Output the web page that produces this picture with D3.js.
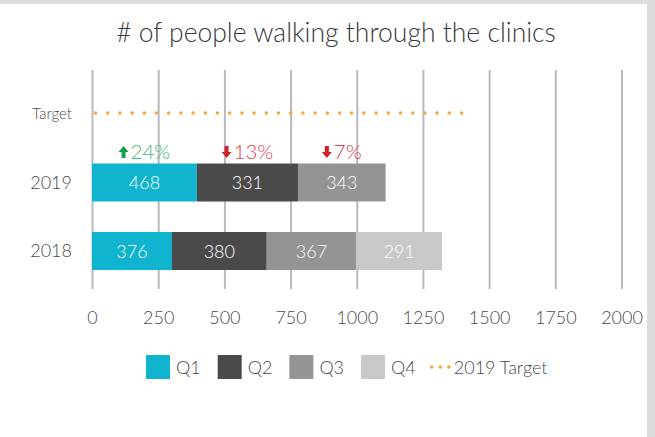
<!DOCTYPE html>
<html>
<head>
<meta charset="utf-8">
<script src="https://cdn.jsdelivr.net/npm/d3@7"></script>
<style>
  html, body { margin: 0; padding: 0; background: #dcdddf; }
  svg { display: block; font-family: Lato, "Open Sans", sans-serif; }
</style>
</head>
<body>
<div id="chart"></div>
<script>
const years = ['2019', '2018'];
const quarters = ['Q1', 'Q2', 'Q3', 'Q4'];
// bar lengths as drawn in the picture
const values2019 = [396, 382, 331];
const values2018 = [302, 358, 338, 324];
// numbers printed on the bars
const labels2019 = [468, 331, 343];
const labels2018 = [376, 380, 367, 291];
const targetValue = 1414;
const ticks = [0, 250, 500, 750, 1000, 1250, 1500, 1750, 2000];
const colors = ['#10b4cf', '#4a4a4a', '#939496', '#c7c8ca'];

const width = 655, height = 437;
const textColor = '#4a4a4a';
const svg = d3.select('#chart').append('svg')
  .attr('width', width)
  .attr('height', height);

svg.append('rect')
  .attr('x', 0).attr('y', 4)
  .attr('width', 647).attr('height', height - 4)
  .attr('fill', '#fff');

svg.append('text')
  .attr('x', 336).attr('y', 42)
  .attr('text-anchor', 'middle')
  .attr('font-size', 26.5)
  .attr('font-weight', 300)
  .attr('fill', '#3a3a3a')
  .text('# of people walking through the clinics');

const x = d3.scaleLinear().domain([0, 2000]).range([92, 621.5]);
const y = d3.scalePoint().domain(['Target'].concat(years)).range([114, 251]);
const barH = 38;

// grid lines
svg.append('g')
  .attr('transform', 'translate(0,289)')
  .call(d3.axisBottom(x).tickValues(ticks).tickSize(-219).tickFormat(''))
  .call(g => g.select('.domain').remove())
  .call(g => g.selectAll('line').attr('stroke', '#b9b9bc').attr('stroke-width', 2));

// x axis labels
svg.append('g')
  .attr('transform', 'translate(0,308)')
  .call(d3.axisBottom(x).tickValues(ticks).tickSize(0).tickFormat(d3.format('d')))
  .call(g => g.select('.domain').remove())
  .call(g => g.selectAll('text')
    .attr('font-family', 'Lato, sans-serif')
    .attr('font-size', 18)
    .attr('font-weight', 300)
    .attr('fill', textColor));

// y labels
svg.append('g')
  .attr('transform', 'translate(72,0)')
  .call(d3.axisLeft(y).tickSize(0).tickPadding(0))
  .call(g => g.select('.domain').remove())
  .call(g => g.selectAll('text')
    .attr('font-family', 'Lato, sans-serif')
    .attr('font-size', d => d === 'Target' ? 15 : 18)
    .attr('font-weight', 300)
    .attr('fill', textColor));

// stacked bars
const rows = [
  { year: '2019', values: values2019, labels: labels2019 },
  { year: '2018', values: values2018, labels: labels2018 }
];
rows.forEach(r => {
  let acc = 0;
  r.segs = r.values.map((v, i) => {
    const s = { i, x0: acc, x1: acc + v, label: r.labels[i] };
    acc += v;
    return s;
  });
});

const rowG = svg.selectAll('.row').data(rows).enter().append('g')
  .attr('class', 'row')
  .attr('transform', d => 'translate(0,' + (y(d.year) - barH / 2) + ')');

rowG.selectAll('rect').data(d => d.segs).enter().append('rect')
  .attr('x', d => x(d.x0))
  .attr('width', d => x(d.x1) - x(d.x0))
  .attr('height', barH)
  .attr('fill', d => colors[d.i]);

rowG.selectAll('text').data(d => d.segs).enter().append('text')
  .attr('x', d => (x(d.x0) + x(d.x1)) / 2)
  .attr('y', barH / 2 + 6.5)
  .attr('text-anchor', 'middle')
  .attr('font-size', 18)
  .attr('font-weight', 300)
  .attr('fill', '#fff')
  .text(d => d.label);

// target dotted line
svg.append('line')
  .attr('x1', x(0) + 3.5).attr('x2', x(targetValue))
  .attr('y1', y('Target') - 1).attr('y2', y('Target') - 1)
  .attr('stroke', '#f7a541')
  .attr('stroke-width', 3.6)
  .attr('stroke-linecap', 'round')
  .attr('stroke-dasharray', '0 12.2');

// change vs 2018
const upArrow = 'M0,-12L5,-6L2,-6L2,0L-2,0L-2,-6L-5,-6Z';
const downArrow = 'M0,0L5,-6L2,-6L2,-12L-2,-12L-2,-6L-5,-6Z';
const seg2019 = rows[0].segs;
const changes = seg2019.map((s, i) => {
  const pct = Math.round((labels2019[i] / labels2018[i] - 1) * 100);
  return { pct, cx: (x(s.x0) + x(s.x1)) / 2 };
});
const chG = svg.selectAll('.chg').data(changes).enter().append('g')
  .attr('class', 'chg');
chG.append('text')
  .attr('class', 'pct')
  .attr('y', 158.5)
  .attr('font-size', 20.5)
  .attr('font-weight', 300)
  .attr('fill', d => d.pct >= 0 ? '#3fbb6e' : '#e0434d')
  .text(d => Math.abs(d.pct) + '%');
chG.each(function(d) {
  const g = d3.select(this);
  const t = g.select('text');
  const w = t.node().getComputedTextLength();
  const total = 10 + 2 + w;
  const left = d.cx - total / 2;
  t.attr('x', left + 12);
  g.append('path')
    .attr('d', d.pct >= 0 ? upArrow : downArrow)
    .attr('transform', 'translate(' + (left + 5) + ',158)')
    .attr('fill', d.pct >= 0 ? '#14a04b' : '#d0232c');
});

// legend
const legend = svg.append('g').attr('transform', 'translate(0,367)');
let lx = 146;
quarters.forEach((q, i) => {
  legend.append('rect')
    .attr('x', lx).attr('y', -12)
    .attr('width', 24).attr('height', 24)
    .attr('fill', colors[i]);
  const t = legend.append('text')
    .attr('x', lx + 30).attr('y', 6.5)
    .attr('font-size', 18)
    .attr('font-weight', 300)
    .attr('fill', textColor)
    .text(q);
  lx += 30 + t.node().getComputedTextLength() + 17;
});
lx -= 3;
[0, 1, 2].forEach(k => {
  legend.append('circle')
    .attr('cx', lx + 2 + k * 8.6).attr('cy', 0)
    .attr('r', 1.8)
    .attr('fill', '#f7a541');
});
legend.append('text')
  .attr('x', lx + 24).attr('y', 6.5)
  .attr('font-size', 18)
  .attr('font-weight', 300)
  .attr('fill', textColor)
  .text('2019 Target');
</script>
</body>
</html>
